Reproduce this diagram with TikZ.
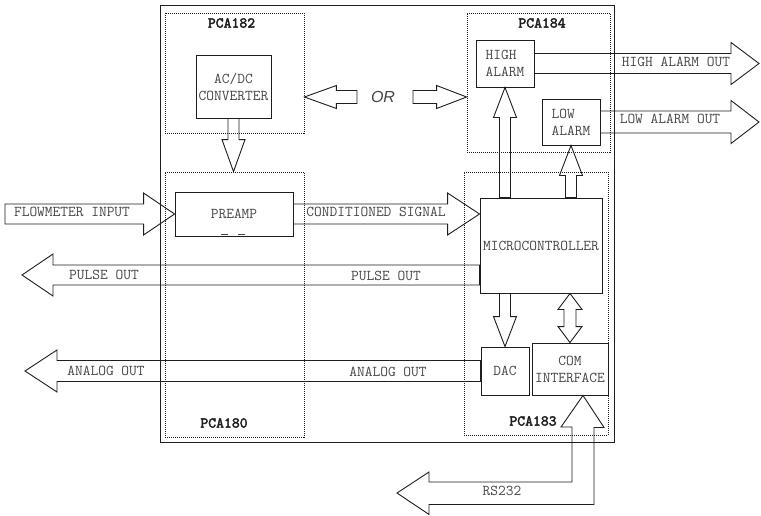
\documentclass[tikz,border=0pt]{standalone}
\usepackage{fontspec}
\setmainfont{Liberation Serif}
\setsansfont{Liberation Sans}
\newfontfamily\tagfamily{lmmono10-regular}[Extension=.otf, FakeBold=2.5]
\usepackage{tikz}
\usetikzlibrary{calc}
\definecolor{PCAInk}{RGB}{30, 30, 30}
\definecolor{PCAText}{RGB}{70, 70, 70}
\newcommand{\sigfont}{\ttfamily\fontsize{15}{17}\selectfont}
\newcommand{\tagfont}{\tagfamily\fontsize{15}{17}\selectfont}
\newcommand{\orfont}{\sffamily\itshape\fontsize{16}{18}\selectfont}
% from, to, shaft half width, head half width, head length
\newcommand{\fatarrow}[5]{%
  \draw [fat] let \p1=(#1), \p2=(#2), \n1={atan2(\y2-\y1,\x2-\x1)}, \n2={veclen(\x2-\x1,\y2-\y1)} in
    [shift={(\p1)}, rotate=\n1]
    (0pt,#3pt) -- (\n2-#5pt,#3pt) -- (\n2-#5pt,#4pt) -- (\n2,0pt) -- (\n2-#5pt,-#4pt) -- (\n2-#5pt,-#3pt) -- (0pt,-#3pt) -- cycle;
}
\newcommand{\twinarrow}[5]{%
  \draw [fat] let \p1=(#1), \p2=(#2), \n1={atan2(\y2-\y1,\x2-\x1)}, \n2={veclen(\x2-\x1,\y2-\y1)} in
    [shift={(\p1)}, rotate=\n1]
    (0pt,0pt) -- (#5pt,#4pt) -- (#5pt,#3pt) -- (\n2-#5pt,#3pt) -- (\n2-#5pt,#4pt) -- (\n2,0pt)
    -- (\n2-#5pt,-#4pt) -- (\n2-#5pt,-#3pt) -- (#5pt,-#3pt) -- (#5pt,-#4pt) -- cycle;
}

\begin{document}
\begin{tikzpicture}[x=1pt, y=-1pt]
  \tikzstyle{board} = [draw=PCAInk, line width=0.8pt, dash pattern=on 1pt off 1pt, inner sep=0pt]
  \tikzstyle{block} = [draw=PCAInk, line width=0.9pt, inner sep=0pt, font=\sigfont, text=PCAText, align=center]
  \tikzstyle{fat} = [draw=PCAInk, line width=0.9pt, line join=miter]
  \tikzstyle{sig} = [font=\sigfont, text=PCAText, inner sep=0pt]
  \tikzstyle{tag} = [font=\tagfont, text=PCAInk, inner sep=0pt]

  \fill [white] (0,0) rectangle (761,515);
  \useasboundingbox (0,0) rectangle (761,515);

  \node [draw=PCAInk, line width=0.9pt, inner sep=0pt, minimum width=454pt, minimum height=437pt] (meter) at (387,223.5) {};
  \node [board, minimum width=139pt, minimum height=120pt] (pca182) at (234.5,73) {};
  \node [board, minimum width=143pt, minimum height=139pt] (pca184) at (538.5,82.5) {};
  \node [board, minimum width=139pt, minimum height=265pt] (pca180) at (234.5,304.5) {};
  \node [board, minimum width=144pt, minimum height=263pt] (pca183) at (536,303.5) {};

  \node [tag] (tag182) at (231.5,23) {PCA182};
  \node [tag] (tag184) at (542,23) {PCA184};
  \node [tag] (tag180) at (224,423) {PCA180};
  \node [tag] (tag183) at (533,421) {PCA183};

  \node [block, minimum width=75pt, minimum height=63pt] (conv) at (233.5,86.5) {AC/DC\\CONVERTER};
  \node [block, minimum width=118pt, minimum height=44pt] (preamp) at (234,214) {PREAMP};
  \draw [PCAText, line width=1.6pt] ($(preamp.south)+(-13,-2)$) -- ++(7,0) ($(preamp.south)+(4,-2)$) -- ++(7,0);
  \node [block, align=left, minimum width=58pt, minimum height=47pt] (high) at (505,63.5) {HIGH\\ALARM};
  \node [block, align=left, minimum width=58pt, minimum height=46pt] (low) at (571,122) {LOW\\ALARM};
  \node [block, minimum width=122pt, minimum height=95pt] (micro) at (541,245.5) {MICROCONTROLLER};
  \node [block, minimum width=48pt, minimum height=48pt] (dac) at (505,371) {DAC};
  \node [block, minimum width=76pt, minimum height=52pt] (com) at (570,369) {COM\\INTERFACE};

  \coordinate (flowin) at (5,214);
  \coordinate (pulseout) at (22,275);
  \coordinate (analogout) at (25,371);
  \coordinate (highout) at (759,63.5);
  \coordinate (lowout) at (759,122);
  \coordinate (orleft) at (357,97);
  \coordinate (orright) at (413,97);
  \coordinate (rsend) at (397,493);
  \coordinate (rstip) at ($(com.south)+(13,0)$);

  \fatarrow{flowin}{preamp.west}{10}{21}{31}
  \fatarrow{preamp.east}{micro.west |- preamp.east}{10}{21}{32}
  \fatarrow{micro.west |- pulseout}{pulseout}{10}{21}{31}
  \fatarrow{dac.west}{analogout}{10.5}{21}{32}
  \fatarrow{high.east}{highout}{10}{21}{28}
  \fatarrow{low.east}{lowout}{11}{21.5}{28}
  \fatarrow{conv.south}{conv.south |- pca180.north}{5.5}{11.5}{32}
  \fatarrow{high.south |- micro.north}{high.south}{5.5}{11.5}{30}
  \fatarrow{low.south |- micro.north}{low.south}{5.5}{11.5}{30}
  \fatarrow{dac.north |- micro.south}{dac.north}{5.5}{11.5}{30}
  \fatarrow{orleft}{pca182.east |- orleft}{6.5}{11.5}{32}
  \fatarrow{orright}{pca184.west |- orright}{6.5}{11.5}{30}
  \twinarrow{com.north |- micro.south}{com.north}{6}{12}{16}
  \draw [fat] (rstip) -- ++(21,32) -- ++(-10,0) -- ++(0,77) -- ++(-165,0) -- ++(0,10) -- (rsend)
    -- ++(32,-21) -- ++(0,10) -- ++(143,0) -- ++(0,-55) -- ++(-11,0) -- cycle;

  \node [font=\orfont, text=PCAText, inner sep=0pt] (or) at (383,97) {OR};
  \node [sig] (flowlbl) at (72,212) {FLOWMETER INPUT};
  \node [sig] (condlbl) at (376,212) {CONDITIONED SIGNAL};
  \node [sig] (pulselbl) at (104,275) {PULSE OUT};
  \node [sig] (pulselbl2) at (386,276) {PULSE OUT};
  \node [sig] (analoglbl) at (106,371) {ANALOG OUT};
  \node [sig] (analoglbl2) at (388,372) {ANALOG OUT};
  \node [sig] (highlbl) at (676,62) {HIGH ALARM OUT};
  \node [sig] (lowlbl) at (670,119) {LOW ALARM OUT};
  \node [sig] (rslbl) at (502,491) {RS232};
\end{tikzpicture}
\end{document}
